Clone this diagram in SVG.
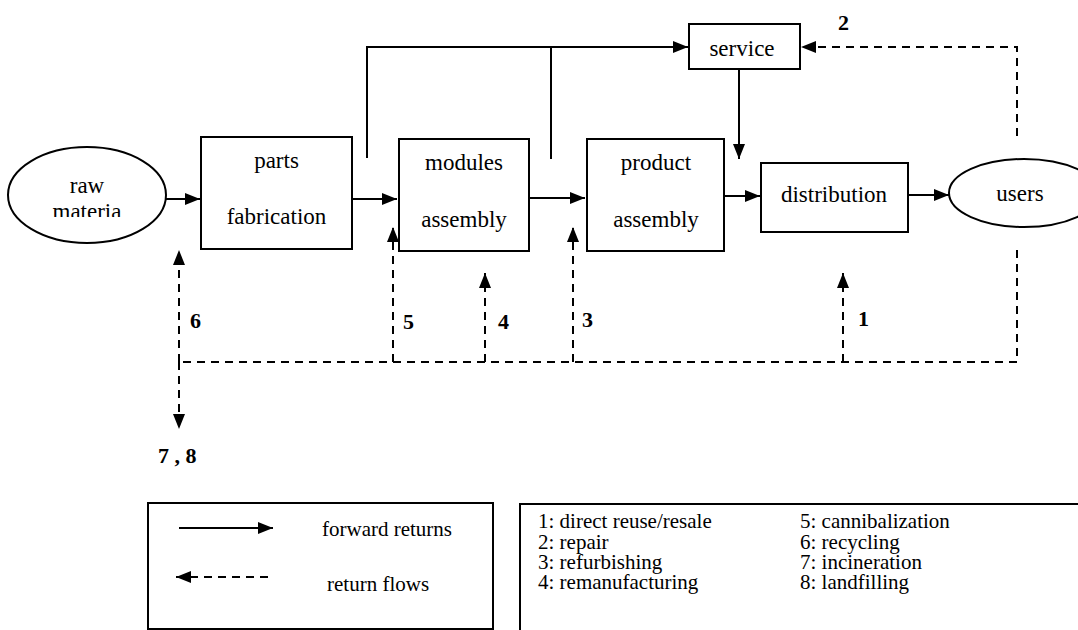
<svg xmlns="http://www.w3.org/2000/svg" width="1078" height="630" viewBox="0 0 1078 630">
<style>
.box{fill:#fff;stroke:#000;stroke-width:2}
.lbl{font-family:'Liberation Serif','Times New Roman',Times,'DejaVu Serif',serif;font-size:23px;fill:#000;text-anchor:middle}
.num{font-family:'Liberation Serif','Times New Roman',Times,'DejaVu Serif',serif;font-size:22px;font-weight:bold;fill:#000}
.leg{font-family:'Liberation Serif','Times New Roman',Times,'DejaVu Serif',serif;font-size:21px;fill:#000}
.fw{fill:none;stroke:#000;stroke-width:2}
.rt{fill:none;stroke:#000;stroke-width:2;stroke-dasharray:8 6}
</style>
<defs>
<marker id="ah" markerUnits="userSpaceOnUse" markerWidth="16" markerHeight="14" viewBox="0 0 16 14" refX="15" refY="7" orient="auto">
<path d="M0,1 L15,7 L0,13 z" fill="#000"/>
</marker>
<clipPath id="rawclip"><rect x="0" y="140" width="180" height="77"/></clipPath>
</defs>
<rect width="1078" height="630" fill="#fff"/>

<g id="connectors">
<line class="fw" x1="166" y1="199" x2="200" y2="199" marker-end="url(#ah)"/>
<line class="fw" x1="352" y1="199" x2="397" y2="199" marker-end="url(#ah)"/>
<line class="fw" x1="529" y1="198" x2="585" y2="198" marker-end="url(#ah)"/>
<line class="fw" x1="724" y1="196" x2="760" y2="196" marker-end="url(#ah)"/>
<line class="fw" x1="908" y1="195" x2="949" y2="195" marker-end="url(#ah)"/>
<path class="fw" d="M367,158 V47 H688" marker-end="url(#ah)"/>
<line class="fw" x1="551" y1="159" x2="551" y2="47"/>
<line class="fw" x1="739" y1="69" x2="739" y2="159" marker-end="url(#ah)"/>
<path class="rt" d="M1017,136 V47 H801" marker-end="url(#ah)"/>
<path class="rt" d="M1017,250 V362 H179"/>
<line class="rt" x1="843" y1="362" x2="843" y2="273" marker-end="url(#ah)"/>
<line class="rt" x1="573" y1="362" x2="573" y2="227" marker-end="url(#ah)"/>
<line class="rt" x1="485" y1="362" x2="485" y2="273" marker-end="url(#ah)"/>
<line class="rt" x1="393" y1="362" x2="393" y2="227" marker-end="url(#ah)"/>
<line class="rt" x1="179" y1="362" x2="179" y2="250" marker-end="url(#ah)"/>
<line class="rt" x1="179" y1="362" x2="179" y2="429" marker-end="url(#ah)"/>
</g>

<g id="labels">
<text class="num" x="838" y="30">2</text>
<text class="num" x="190" y="328">6</text>
<text class="num" x="403" y="329">5</text>
<text class="num" x="498" y="329">4</text>
<text class="num" x="582" y="327">3</text>
<text class="num" x="858" y="326">1</text>
<text class="num" x="158" y="463" xml:space="preserve">7 , 8</text>
</g>

<g id="raw-material">
<ellipse class="box" cx="87" cy="195" rx="79" ry="48"/>
<g clip-path="url(#rawclip)">
<text class="lbl" x="87" y="193">raw</text>
<text class="lbl" x="87" y="219">materia</text>
</g>
</g>

<g id="parts-fabrication">
<rect class="box" x="201" y="137" width="151" height="112"/>
<text class="lbl" x="276.5" y="168">parts</text>
<text class="lbl" x="276.5" y="224">fabrication</text>
</g>

<g id="modules-assembly">
<rect class="box" x="399" y="139" width="130" height="112"/>
<text class="lbl" x="464" y="170">modules</text>
<text class="lbl" x="464" y="227">assembly</text>
</g>

<g id="product-assembly">
<rect class="box" x="587" y="139" width="137" height="112"/>
<text class="lbl" x="656" y="170">product</text>
<text class="lbl" x="656" y="227">assembly</text>
</g>

<g id="service">
<rect class="box" x="689" y="24" width="111" height="45"/>
<text class="lbl" x="742" y="56">service</text>
</g>

<g id="distribution">
<rect class="box" x="761" y="163" width="147" height="69"/>
<text class="lbl" x="834" y="202">distribution</text>
</g>

<g id="users">
<ellipse class="box" cx="1024" cy="193" rx="75" ry="34"/>
<text class="lbl" x="1020" y="201">users</text>
</g>

<g id="legend-flows">
<rect class="box" x="148" y="503" width="345" height="126"/>
<line class="fw" x1="179" y1="528" x2="273" y2="528" marker-end="url(#ah)"/>
<text class="leg" x="322" y="536" font-size="23">forward returns</text>
<line class="rt" x1="268" y1="577" x2="176" y2="577" marker-end="url(#ah)"/>
<text class="leg" x="327" y="591" font-size="23">return flows</text>
</g>

<g id="legend-codes">
<path d="M1078,504 H520 V630" fill="none" stroke="#000" stroke-width="2"/>
<text class="leg" x="538" y="528">1: direct reuse/resale</text>
<text class="leg" x="538" y="549">2: repair</text>
<text class="leg" x="538" y="569">3: refurbishing</text>
<text class="leg" x="538" y="589">4: remanufacturing</text>
<text class="leg" x="800" y="528">5: cannibalization</text>
<text class="leg" x="800" y="549">6: recycling</text>
<text class="leg" x="800" y="569">7: incineration</text>
<text class="leg" x="800" y="589">8: landfilling</text>
</g>
</svg>
